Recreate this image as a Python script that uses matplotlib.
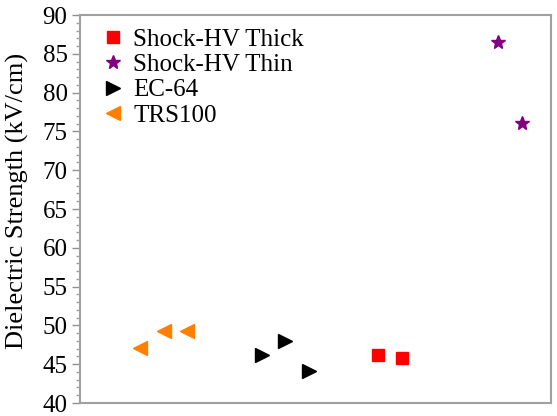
import matplotlib.pyplot as plt
from matplotlib.ticker import MultipleLocator

plt.rcParams['font.family'] = ['Liberation Serif', 'DejaVu Serif']

# sample positions (no x scale shown) and dielectric strength values
x_trs = [1.0, 2.0, 3.0]
y_trs = [47.1, 49.3, 49.3]
x_ec = [6.15, 7.15, 8.15]
y_ec = [46.2, 48.0, 44.1]
x_thick = [11.1, 12.1]
y_thick = [46.2, 45.8]
x_thin = [16.2, 17.2]
y_thin = [86.5, 76.1]

fig = plt.figure(figsize=(5.57, 4.16), dpi=100)
ax = fig.add_axes([80 / 557, 1 - 403 / 416, 471 / 557, 388 / 416])

ax.plot(x_thick, y_thick, 's', color='#ff0000', ms=8, ls='none', label='Shock-HV Thick')
ax.plot(x_thin, y_thin, '*', color='#800080', ms=10, ls='none', label='Shock-HV Thin')
ax.plot(x_ec, y_ec, '>', color='black', ms=10, ls='none', label='EC-64')
ax.plot(x_trs, y_trs, '<', color='#ff8000', ms=10, ls='none', label='TRS100')

ax.set_xlim(-1.55, 18.43)
ax.set_ylim(40, 90)
ax.yaxis.set_major_locator(MultipleLocator(5))
ax.yaxis.set_minor_locator(MultipleLocator(1))
ax.set_xticks([])
ax.tick_params(axis='y', which='major', length=6, width=1, color='#909090', labelsize=18, pad=3)
ax.tick_params(axis='y', which='minor', length=3, width=1, color='#a0a0a0')
for s in ax.spines.values():
    s.set_color('#a0a0a0')
    s.set_linewidth(1.5)

ax.set_ylabel('Dielectric Strength (kV/cm)', fontsize=19)
ax.yaxis.set_label_coords(-0.108, 0.52)

ax.legend(loc='upper left', bbox_to_anchor=(103 / 557, 1 - 28 / 416), bbox_transform=fig.transFigure,
          frameon=False, borderpad=0, borderaxespad=0, handlelength=0.8, handletextpad=0.4,
          labelspacing=0.12, fontsize=18)

fig.savefig('out.png', dpi=100)
